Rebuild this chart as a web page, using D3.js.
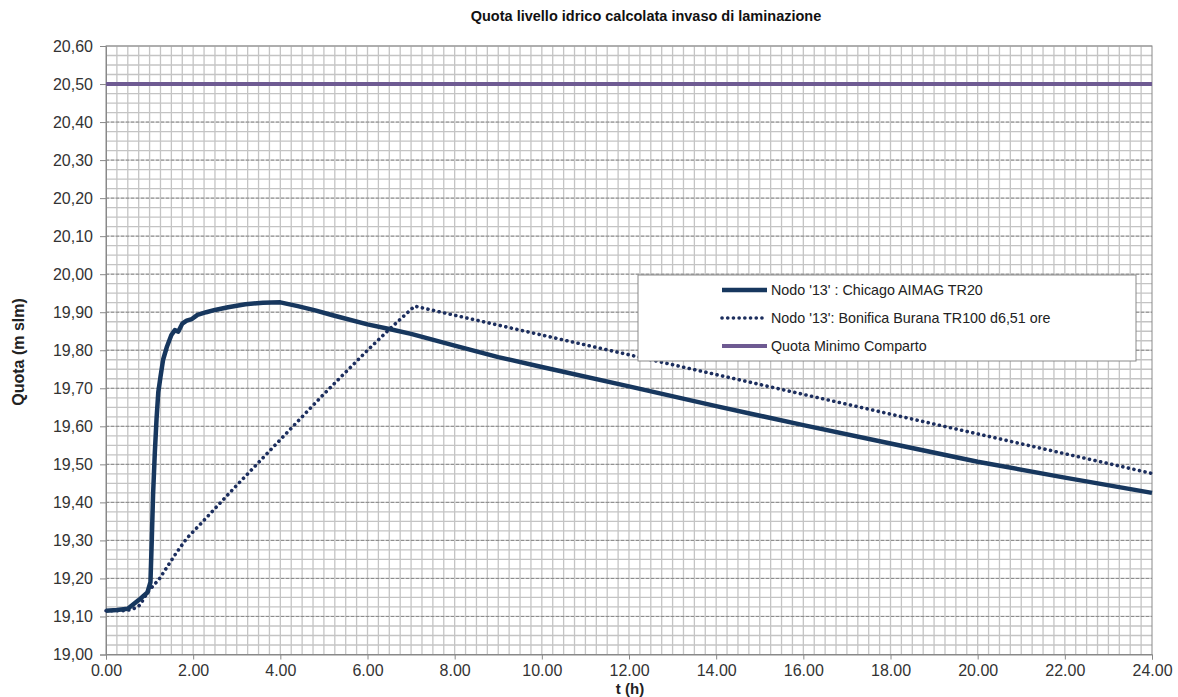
<!DOCTYPE html>
<html lang="it">
<head>
<meta charset="utf-8">
<title>Quota livello idrico calcolata invaso di laminazione</title>
<style>
  body {margin: 0; background: #fff; font-family: Arial, "Liberation Sans", sans-serif;}
  svg  {display: block;}
  .tick text {fill: #333; font-size: 16px;}
  .axis path, .axis line {stroke: #888;}
</style>
</head>
<body>

<svg id="chart" width="1178" height="697"></svg>

<script src="https://d3js.org/d3.v7.min.js"></script>
<script>
// Nodo '13' : Chicago AIMAG TR20
const chicagoT = [0, 0.25, 0.5, 0.75, 0.95, 1.02, 1.05, 1.08, 1.12, 1.16, 1.2, 1.25, 1.31, 1.4, 1.5, 1.58, 1.66,
                  1.75, 1.85, 1.97, 2.1, 2.3, 2.5, 2.8, 3.2, 3.6, 4.0, 4.4, 4.8, 5.2, 6.0, 6.5, 7.0, 8.0, 9.0,
                  10, 12, 14, 16, 18, 20, 22, 24];
const chicagoQ = [19.115, 19.117, 19.12, 19.143, 19.163, 19.19, 19.3, 19.42, 19.53, 19.62, 19.69, 19.73, 19.775,
                  19.81, 19.84, 19.853, 19.849, 19.87, 19.878, 19.882, 19.893, 19.9, 19.906, 19.913, 19.921,
                  19.925, 19.926, 19.916, 19.905, 19.892, 19.868, 19.856, 19.843, 19.812, 19.782,
                  19.756, 19.705, 19.653, 19.603, 19.555, 19.507, 19.465, 19.425];

// Nodo '13': Bonifica Burana TR100 d6,51 ore
const buranaT = [0, 0.45, 0.63, 0.78, 0.95, 1.1, 1.22, 1.4, 1.6, 1.85, 2.2, 3, 4, 5, 6, 6.5, 7.08,
                 8, 10, 12, 14, 16, 18, 20, 22, 24];
const buranaQ = [19.115, 19.115, 19.12, 19.13, 19.163, 19.183, 19.198, 19.23, 19.265, 19.305, 19.347, 19.445,
                 19.565, 19.685, 19.8, 19.855, 19.916, 19.892, 19.84, 19.788, 19.736, 19.684, 19.632, 19.58,
                 19.528, 19.476];

// Quota Minimo Comparto
const minimoT = [0, 24];
const minimoQ = [20.5, 20.5];

const xTicks = [0, 2, 4, 6, 8, 10, 12, 14, 16, 18, 20, 22, 24];
const yTicks = [19.0, 19.1, 19.2, 19.3, 19.4, 19.5, 19.6, 19.7, 19.8, 19.9, 20.0, 20.1, 20.2, 20.3, 20.4, 20.5, 20.6];

const legendLabels = ["Nodo '13' : Chicago AIMAG TR20", "Nodo '13': Bonifica Burana TR100 d6,51 ore", "Quota Minimo Comparto"];

const svg = d3.select("#chart");
const x = d3.scaleLinear().domain([0, 24]).range([106, 1152]);
const y = d3.scaleLinear().domain([19, 20.6]).range([654.5, 46]);

// minor grid
const grid = svg.append("g");
grid.selectAll(".vx").data(d3.range(0.25, 24, 0.25)).join("line")
  .attr("x1", d => x(d)).attr("x2", d => x(d))
  .attr("y1", y(20.6)).attr("y2", y(19))
  .attr("stroke", "#c4c4c4").attr("stroke-width", 1.3);
grid.selectAll(".hy").data(d3.range(19.025, 20.6, 0.025)).join("line")
  .attr("x1", x(0)).attr("x2", x(24))
  .attr("y1", d => y(d)).attr("y2", d => y(d))
  .attr("stroke", "#c4c4c4").attr("stroke-width", 1.3);
// major horizontal lines, dashed
grid.selectAll(".my").data(yTicks.slice(1, -1)).join("line")
  .attr("x1", x(0)).attr("x2", x(24))
  .attr("y1", d => y(d)).attr("y2", d => y(d))
  .attr("stroke", "#8a8a8a").attr("stroke-width", 1).attr("stroke-dasharray", "3,2");

// plot border
svg.append("rect")
  .attr("x", x(0)).attr("y", y(20.6))
  .attr("width", x(24) - x(0)).attr("height", y(19) - y(20.6))
  .attr("fill", "none").attr("stroke", "#8a8a8a");

// axes
svg.append("g").attr("class", "axis")
  .attr("transform", `translate(${x(0)},0)`)
  .call(d3.axisLeft(y).tickValues(yTicks).tickSize(6).tickPadding(7)
    .tickFormat(d => d3.format(".2f")(d).replace(".", ",")));
svg.append("g").attr("class", "axis")
  .attr("transform", `translate(0,${y(19)})`)
  .call(d3.axisBottom(x).tickValues(xTicks).tickSize(5).tickPadding(5)
    .tickFormat(d3.format(".2f")));

const line = d3.line().x(d => x(d[0])).y(d => y(d[1]));
const dots = "0.1,5.6";

svg.append("path").datum(d3.zip(minimoT, minimoQ))
  .attr("d", line).attr("fill", "none")
  .attr("stroke", "#6e5a92").attr("stroke-width", 4);

svg.append("path").datum(d3.zip(buranaT, buranaQ))
  .attr("d", line).attr("fill", "none")
  .attr("stroke", "#1c2e5e").attr("stroke-width", 3.6)
  .attr("stroke-linecap", "round").attr("stroke-dasharray", dots);

svg.append("path").datum(d3.zip(chicagoT, chicagoQ))
  .attr("d", line).attr("fill", "none")
  .attr("stroke", "#17375e").attr("stroke-width", 4.5).attr("stroke-linejoin", "round");

// legend
const lg = svg.append("g");
lg.append("rect").attr("x", 638).attr("y", 275).attr("width", 498).attr("height", 86)
  .attr("fill", "#fff").attr("stroke", "#8a8a8a");
const styles = [
  {stroke: "#17375e", w: 4.5, dash: null, cap: "butt"},
  {stroke: "#1c2e5e", w: 3.6, dash: dots, cap: "round"},
  {stroke: "#6e5a92", w: 4, dash: null, cap: "butt"}
];
legendLabels.forEach((t, i) => {
  const cy = 290 + i * 28;
  lg.append("line").attr("x1", 722).attr("x2", 767).attr("y1", cy).attr("y2", cy)
    .attr("stroke", styles[i].stroke).attr("stroke-width", styles[i].w)
    .attr("stroke-linecap", styles[i].cap)
    .attr("stroke-dasharray", styles[i].dash);
  lg.append("text").attr("x", 771).attr("y", cy + 5)
    .attr("font-size", 14.3).attr("fill", "#222").text(t);
});

// titles
svg.append("text").attr("x", 646).attr("y", 21).attr("text-anchor", "middle")
  .attr("font-size", 14.5).attr("font-weight", "bold").attr("fill", "#111")
  .text("Quota livello idrico calcolata invaso di laminazione");
svg.append("text").attr("x", 630).attr("y", 694).attr("text-anchor", "middle")
  .attr("font-size", 15).attr("font-weight", "bold").attr("fill", "#222").text("t (h)");
svg.append("text").attr("transform", "translate(24,352) rotate(-90)").attr("text-anchor", "middle")
  .attr("font-size", 16).attr("font-weight", "bold").attr("fill", "#222").text("Quota (m slm)");
</script>
</body>
</html>
